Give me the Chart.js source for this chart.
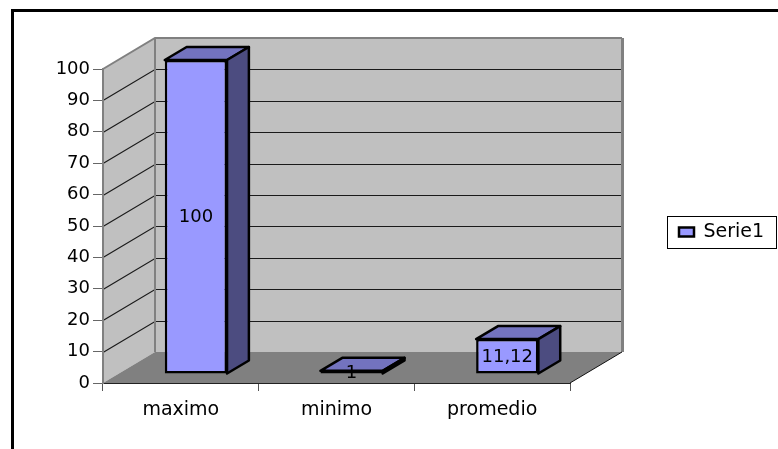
<!DOCTYPE html>
<html>
<head>
<meta charset="utf-8">
<script src="https://cdn.jsdelivr.net/npm/chart.js@4"></script>
<style>
  html, body { margin: 0; padding: 0; background: #fff; }
</style>
</head>
<body>
<canvas id="chart" width="778" height="449"></canvas>
<script>
const categories = ["maximo", "minimo", "promedio"];
const serie1 = [100, 1, 11.12];
const yTicks = [0, 10, 20, 30, 40, 50, 60, 70, 80, 90, 100];
const seriesName = "Serie1";

// depth of the 3D box (walls/floor) in px, and where the bars sit inside it
const WALL_DX = 52, WALL_DY = -31;
const BAR_SHIFT = 0.29;
const BAR_DEPTH = 0.42;

const FRONT = "#9999FF", TOP = "#7373BF", SIDE = "#4C4C80";
const WALL = "#C0C0C0", FLOOR = "#808080", EDGE = "#808080";

Chart.defaults.font.family = "'DejaVu Sans', sans-serif";
Chart.defaults.font.size = 18;
Chart.defaults.color = "#000";

function poly(ctx, pts, fill, stroke) {
    ctx.beginPath();
    pts.forEach(([x, y], i) => i ? ctx.lineTo(x, y) : ctx.moveTo(x, y));
    ctx.closePath();
    if (fill) { ctx.fillStyle = fill; ctx.fill(); }
    if (stroke) { ctx.strokeStyle = stroke; ctx.stroke(); }
}

const fmt = v => String(v).replace(".", ",");

const box3d = {
    id: "box3d",
    afterLayout(chart) {
        // legend sits in its own framed box right of the plot
        const lg = chart.legend, a = chart.chartArea;
        const w = 110, h = 32;
        lg.left = a.right + 97;
        lg.right = lg.left + w;
        lg.width = w;
        lg.top = Math.round((a.top + a.bottom) / 2 + 6 - h / 2);
        lg.bottom = lg.top + h;
        lg.height = h;
    },
    beforeDraw(chart) {
        const { ctx, chartArea: a, scales: { y } } = chart;
        const top = y.getPixelForValue(y.max);
        const bot = y.getPixelForValue(y.min);
        const L = a.left, R = a.right, dx = WALL_DX, dy = WALL_DY;
        ctx.save();
        ctx.fillStyle = "#fff";
        ctx.fillRect(0, 0, chart.width, chart.height);
        ctx.lineWidth = 3;
        ctx.strokeStyle = "#000";
        ctx.strokeRect(12.5, 10.5, chart.width + 20, chart.height + 20);

        // walls and floor
        poly(ctx, [[L, top], [L + dx, top + dy], [L + dx, bot + dy], [L, bot]], WALL);
        poly(ctx, [[L + dx, top + dy], [R + dx, top + dy], [R + dx, bot + dy], [L + dx, bot + dy]], WALL);
        poly(ctx, [[L, bot], [L + dx, bot + dy], [R + dx, bot + dy], [R, bot]], FLOOR);

        // grid lines: diagonal on the side wall, flat on the back wall
        ctx.lineWidth = 1.2;
        ctx.strokeStyle = "#1a1a1a";
        yTicks.forEach(v => {
            if (v === y.min || v === y.max) return;
            const py = Math.round(y.getPixelForValue(v)) + 0.5;
            ctx.beginPath();
            ctx.moveTo(L, py);
            ctx.lineTo(L + dx, py + dy);
            ctx.lineTo(R + dx, py + dy);
            ctx.stroke();
        });

        // wall edges
        ctx.strokeStyle = EDGE;
        ctx.lineWidth = 2;
        ctx.beginPath();
        ctx.moveTo(L, top);
        ctx.lineTo(L + dx, top + dy);
        ctx.lineTo(R + dx, top + dy);
        ctx.moveTo(L + dx, top + dy);
        ctx.lineTo(L + dx, bot + dy);
        ctx.stroke();
        ctx.lineWidth = 3;
        ctx.beginPath();
        ctx.moveTo(R + dx + 0.5, top + dy);
        ctx.lineTo(R + dx + 0.5, bot + dy);
        ctx.stroke();
        ctx.lineWidth = 1;
        ctx.strokeStyle = "#111";
        ctx.beginPath();
        ctx.moveTo(R, bot);
        ctx.lineTo(R + dx, bot + dy);
        ctx.stroke();
        ctx.restore();
    },
    beforeDatasetsDraw(chart) {
        const { ctx } = chart;
        const sx = WALL_DX * BAR_SHIFT, sy = WALL_DY * BAR_SHIFT;
        const dx = WALL_DX * BAR_DEPTH, dy = WALL_DY * BAR_DEPTH;
        ctx.save();
        ctx.translate(sx, sy);
        ctx.lineWidth = 2.5;
        ctx.lineJoin = "round";
        chart.getDatasetMeta(0).data.forEach(bar => {
            const { x, y, base, width } = bar.getProps(["x", "y", "base", "width"], true);
            const l = x - width / 2, r = x + width / 2;
            poly(ctx, [[l, y], [r, y], [r + dx, y + dy], [l + dx, y + dy]], TOP, "#000");
            poly(ctx, [[r, y], [r + dx, y + dy], [r + dx, base + dy], [r, base]], SIDE, "#000");
        });
        // translation stays on for the front faces drawn by Chart.js
    },
    afterDatasetsDraw(chart) {
        const { ctx } = chart;
        ctx.restore();
        const sx = WALL_DX * BAR_SHIFT, sy = WALL_DY * BAR_SHIFT;
        ctx.save();
        ctx.fillStyle = "#000";
        ctx.font = "18px 'DejaVu Sans', sans-serif";
        ctx.textAlign = "center";
        ctx.textBaseline = "middle";
        chart.getDatasetMeta(0).data.forEach((bar, i) => {
            const { x, y, base } = bar.getProps(["x", "y", "base"], true);
            ctx.fillText(fmt(serie1[i]), x + sx, (y + base) / 2 + sy + 1);
        });
        ctx.restore();
    },
    afterDraw(chart) {
        const { ctx, legend: lg } = chart;
        ctx.save();
        ctx.strokeStyle = "#000";
        ctx.lineWidth = 1;
        ctx.strokeRect(lg.left + 0.5, lg.top + 0.5, lg.width - 1, lg.height);
        ctx.restore();
    }
};

new Chart(document.getElementById("chart"), {
    type: "bar",
    data: {
        labels: categories,
        datasets: [{
            label: seriesName,
            data: serie1,
            backgroundColor: FRONT,
            borderColor: "#000",
            borderWidth: 2.5,
            borderSkipped: false,
            categoryPercentage: 1,
            barPercentage: 0.4,
            clip: false
        }]
    },
    options: {
        responsive: false,
        animation: false,
        events: [],
        layout: { padding: { top: 69, left: 0, right: 118, bottom: 0 } },
        plugins: {
            tooltip: { enabled: false },
            legend: {
                position: "right",
                maxWidth: 90,
                labels: { boxWidth: 15, boxHeight: 9, padding: 12, font: { size: 19 }, color: "#000" }
            }
        },
        scales: {
            x: {
                afterFit: s => { s.height = 66; },
                grid: { drawOnChartArea: false, offset: true, tickLength: 8, color: "#555" },
                border: { color: "#222", width: 1 },
                ticks: { padding: 8, font: { size: 19 } }
            },
            y: {
                min: 0,
                max: 100,
                afterFit: s => { s.width = 103; },
                afterBuildTicks: s => { s.ticks = yTicks.map(v => ({ value: v })); },
                grid: { drawOnChartArea: false, tickLength: 10, color: "#666" },
                border: { color: "#808080", width: 2 },
                ticks: { padding: 3 }
            }
        }
    },
    plugins: [box3d]
});
</script>
</body>
</html>
